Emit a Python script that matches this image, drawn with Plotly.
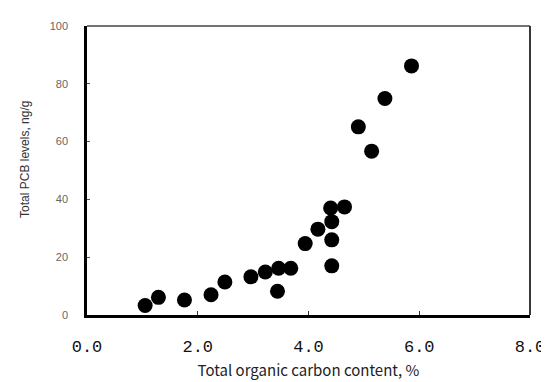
import plotly.graph_objects as go

toc = [1.05, 1.29, 1.76, 2.24, 2.49, 2.96, 3.22, 3.46, 3.44, 3.68, 3.94, 4.17,
       4.40, 4.65, 4.42, 4.42, 4.42, 4.90, 5.14, 5.38, 5.86]
pcb = [3.3, 6.1, 5.2, 7.0, 11.4, 13.2, 14.9, 16.2, 8.2, 16.2, 24.7, 29.7,
       37.0, 37.4, 32.3, 26.0, 17.0, 65.1, 56.7, 74.9, 86.2]

x_ticks = [0, 2, 4, 6, 8]
x_tick_labels = ["0.0", "2.0", "4.0", "6.0", "8.0"]
y_ticks = [0, 20, 40, 60, 80, 100]
y_tick_labels = ["0", "20", "40", "60", "80", "100"]

x_title = "Total organic carbon content, %"
y_title = "Total PCB levels, ng/g"

fig = go.Figure()
fig.add_trace(go.Scatter(
    x=toc, y=pcb, mode="markers",
    marker=dict(size=15, color="black", line=dict(width=0)),
    showlegend=False, hoverinfo="x+y"))

fig.update_layout(
    width=549, height=382,
    margin=dict(l=79, r=14, t=17, b=75),
    paper_bgcolor="white", plot_bgcolor="white",
    xaxis=dict(
        range=[0, 8], tickvals=x_ticks, ticktext=x_tick_labels,
        showgrid=False, zeroline=False,
        showline=True, linecolor="black", linewidth=2.5,
        ticks="inside", ticklen=4, tickwidth=1, tickcolor="#333",
        tickfont=dict(family="Liberation Mono", size=17, color="#111"),
        ticklabelstandoff=14, ticklabeloverflow="allow",
        title=dict(text=x_title,
                   font=dict(family="Noto Sans CJK JP", size=15, color="#222"),
                   standoff=10),
    ),
    yaxis=dict(
        range=[0, 100], tickvals=y_ticks, ticktext=y_tick_labels,
        showgrid=False, zeroline=False,
        showline=True, linecolor="black", linewidth=2.5,
        ticks="inside", ticklen=3, tickwidth=1, tickcolor="#555",
        tickfont=dict(family="Liberation Sans", size=11, color="#666"),
        ticklabelstandoff=14,
    ),
    annotations=[
        dict(text=y_title, xref="paper", yref="paper",
             x=-0.14, y=0.54, xanchor="center", yanchor="middle",
             textangle=-90, showarrow=False,
             font=dict(family="Liberation Sans", size=12, color="#333")),
    ],
    shapes=[
        dict(type="line", xref="paper", yref="paper", x0=0, x1=1, y0=1, y1=1,
             line=dict(color="#444", width=1.5)),
        dict(type="line", xref="paper", yref="paper", x0=1, x1=1, y0=0, y1=1,
             line=dict(color="#222", width=1.8)),
    ],
)

fig.write_html("out.html")
